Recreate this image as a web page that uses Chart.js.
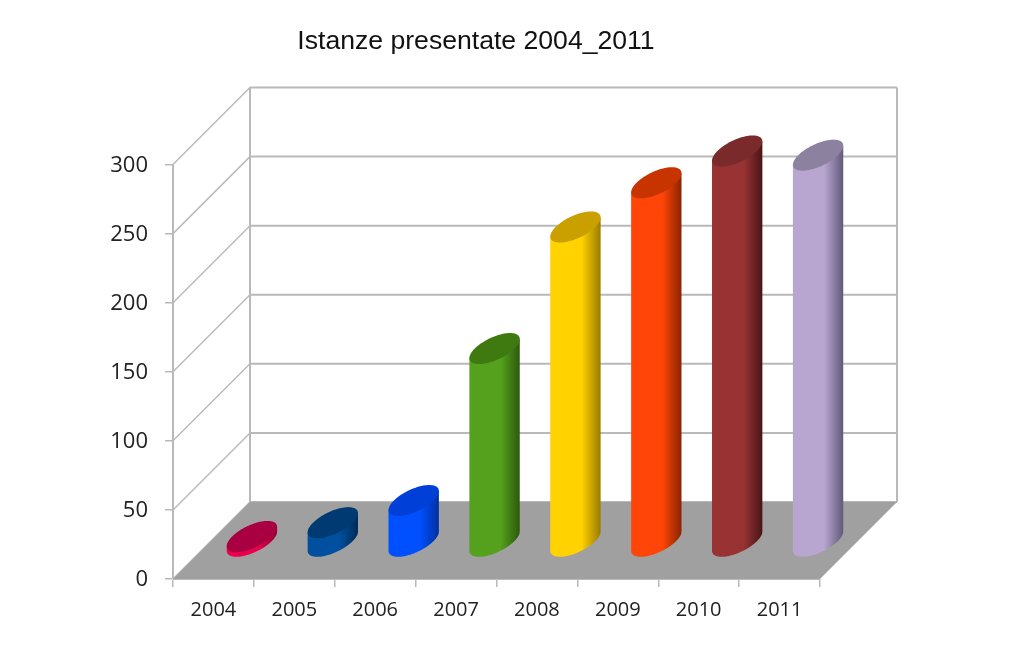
<!DOCTYPE html>
<html>
<head>
<meta charset="utf-8">
<title>Istanze presentate 2004_2011</title>
<script src="https://cdn.jsdelivr.net/npm/chart.js@4"></script>
<style>
  html, body { margin: 0; padding: 0; background: #fff; }
  canvas { display: block; }
</style>
</head>
<body>
<canvas id="chart" width="1024" height="649"></canvas>
<script>
const years = ['2004', '2005', '2006', '2007', '2008', '2009', '2010', '2011'];
const istanze = [4, 14, 30, 140, 228, 260, 283, 280];
const yTicks = [0, 50, 100, 150, 200, 250, 300];

const bodyColors = ['#e8004f', '#00509f', '#0050ff', '#55a01c', '#ffd200', '#ff4508', '#993333', '#b8a6d0'];
const topColors = ['#a80040', '#003a72', '#0040d8', '#3f7a10', '#c9a000', '#c83400', '#7a2a2a', '#8c82a0'];
const edgeColors = ['#90002f', '#002a58', '#0030a0', '#2c5a0c', '#9a7c00', '#8a2400', '#4a1515', '#62597a'];

const WALL_DX = 77, WALL_DY = -77;
const BAR_DX = 38.5, BAR_DY = -37;
const LINE = '#b9b9b9';

const walls = {
  id: 'walls',
  // the y axis box is kept narrow so the title centres where it should,
  // widen it again here or the tick labels get clipped
  afterLayout(chart) {
    chart.scales.y.left = 0;
  },
  beforeDraw(chart) {
    const { ctx, chartArea: { left, right, bottom }, scales: { y } } = chart;
    ctx.save();
    ctx.strokeStyle = LINE;

    ctx.lineWidth = 1.5;
    yTicks.forEach((v) => {
      const p = y.getPixelForValue(v);
      ctx.beginPath();
      ctx.moveTo(left, p);
      ctx.lineTo(left + WALL_DX, p + WALL_DY);
      ctx.stroke();
    });

    ctx.lineWidth = 2;
    yTicks.forEach((v) => {
      const p = y.getPixelForValue(v) + WALL_DY;
      ctx.beginPath();
      ctx.moveTo(left + WALL_DX, p);
      ctx.lineTo(right + WALL_DX, p);
      ctx.stroke();
    });

    const top = y.getPixelForValue(300) + WALL_DY;
    [left + WALL_DX, right + WALL_DX].forEach((x) => {
      ctx.beginPath();
      ctx.moveTo(x, top);
      ctx.lineTo(x, bottom + WALL_DY);
      ctx.stroke();
    });

    ctx.fillStyle = '#a0a0a0';
    ctx.beginPath();
    ctx.moveTo(left, bottom);
    ctx.lineTo(right, bottom);
    ctx.lineTo(right + WALL_DX, bottom + WALL_DY);
    ctx.lineTo(left + WALL_DX, bottom + WALL_DY);
    ctx.closePath();
    ctx.fill();
    ctx.restore();
  }
};

const cylinders = {
  id: 'cylinders',
  beforeDatasetDraw(chart, args) {
    const { ctx } = chart;
    args.meta.data.forEach((bar, i) => {
      const w = bar.width / 2;
      const a = w * 0.79, b = w * 0.62;
      const cx = bar.x + BAR_DX;
      const topY = bar.y + BAR_DY, baseY = bar.base + BAR_DY;
      const t0 = Math.atan2(b, a);
      const px = (t) => cx + a * Math.cos(t) + b * Math.sin(t);
      const py = (t, c) => c - b * Math.sin(t);

      const grad = ctx.createLinearGradient(cx - w, 0, cx + w, 0);
      grad.addColorStop(0, bodyColors[i]);
      grad.addColorStop(0.62, bodyColors[i]);
      grad.addColorStop(1, edgeColors[i]);

      ctx.save();
      ctx.fillStyle = grad;
      ctx.beginPath();
      ctx.moveTo(px(t0), py(t0, topY));
      for (let s = 0; s <= 48; s++) {
        const t = t0 - Math.PI * s / 48;
        ctx.lineTo(px(t), py(t, baseY));
      }
      ctx.lineTo(px(t0 - Math.PI), py(t0 - Math.PI, topY));
      ctx.closePath();
      ctx.fill();

      ctx.fillStyle = topColors[i];
      ctx.beginPath();
      for (let s = 0; s < 96; s++) {
        const t = Math.PI * 2 * s / 96;
        ctx.lineTo(px(t), py(t, topY));
      }
      ctx.closePath();
      ctx.fill();
      ctx.restore();
    });
    return false;
  }
};

new Chart(document.getElementById('chart'), {
  type: 'bar',
  data: {
    labels: years,
    datasets: [{
      label: 'Istanze',
      data: istanze,
      barPercentage: 0.62,
      categoryPercentage: 1
    }]
  },
  plugins: [walls, cylinders],
  options: {
    responsive: false,
    animation: false,
    layout: { padding: { left: 132, right: 204, top: 0, bottom: 0 } },
    plugins: {
      legend: { display: false },
      tooltip: { enabled: false },
      title: {
        display: true,
        text: 'Istanze presentate 2004_2011',
        color: '#111',
        font: { family: '"Liberation Sans"', size: 26.6, weight: 'normal', lineHeight: 1.2 },
        padding: { top: 26, bottom: 106.6 }
      }
    },
    scales: {
      x: {
        afterFit: (scale) => { scale.height = 70; },
        grid: { drawOnChartArea: false, color: LINE, tickLength: 8, lineWidth: 1.5 },
        border: { color: LINE },
        ticks: { color: '#222', padding: 11, maxRotation: 0, font: { family: '"Open Sans"', size: 20 } }
      },
      y: {
        min: 0,
        max: 300,
        afterFit: (scale) => { scale.width = 41; },
        afterBuildTicks: (scale) => { scale.ticks = yTicks.map((value) => ({ value })); },
        grid: { drawOnChartArea: false, color: LINE, tickLength: 8, lineWidth: 1.5 },
        border: { color: LINE, width: 2 },
        ticks: { color: '#222', padding: 17, labelOffset: 1, font: { family: '"Open Sans"', size: 22 } }
      }
    }
  }
});
</script>
</body>
</html>
